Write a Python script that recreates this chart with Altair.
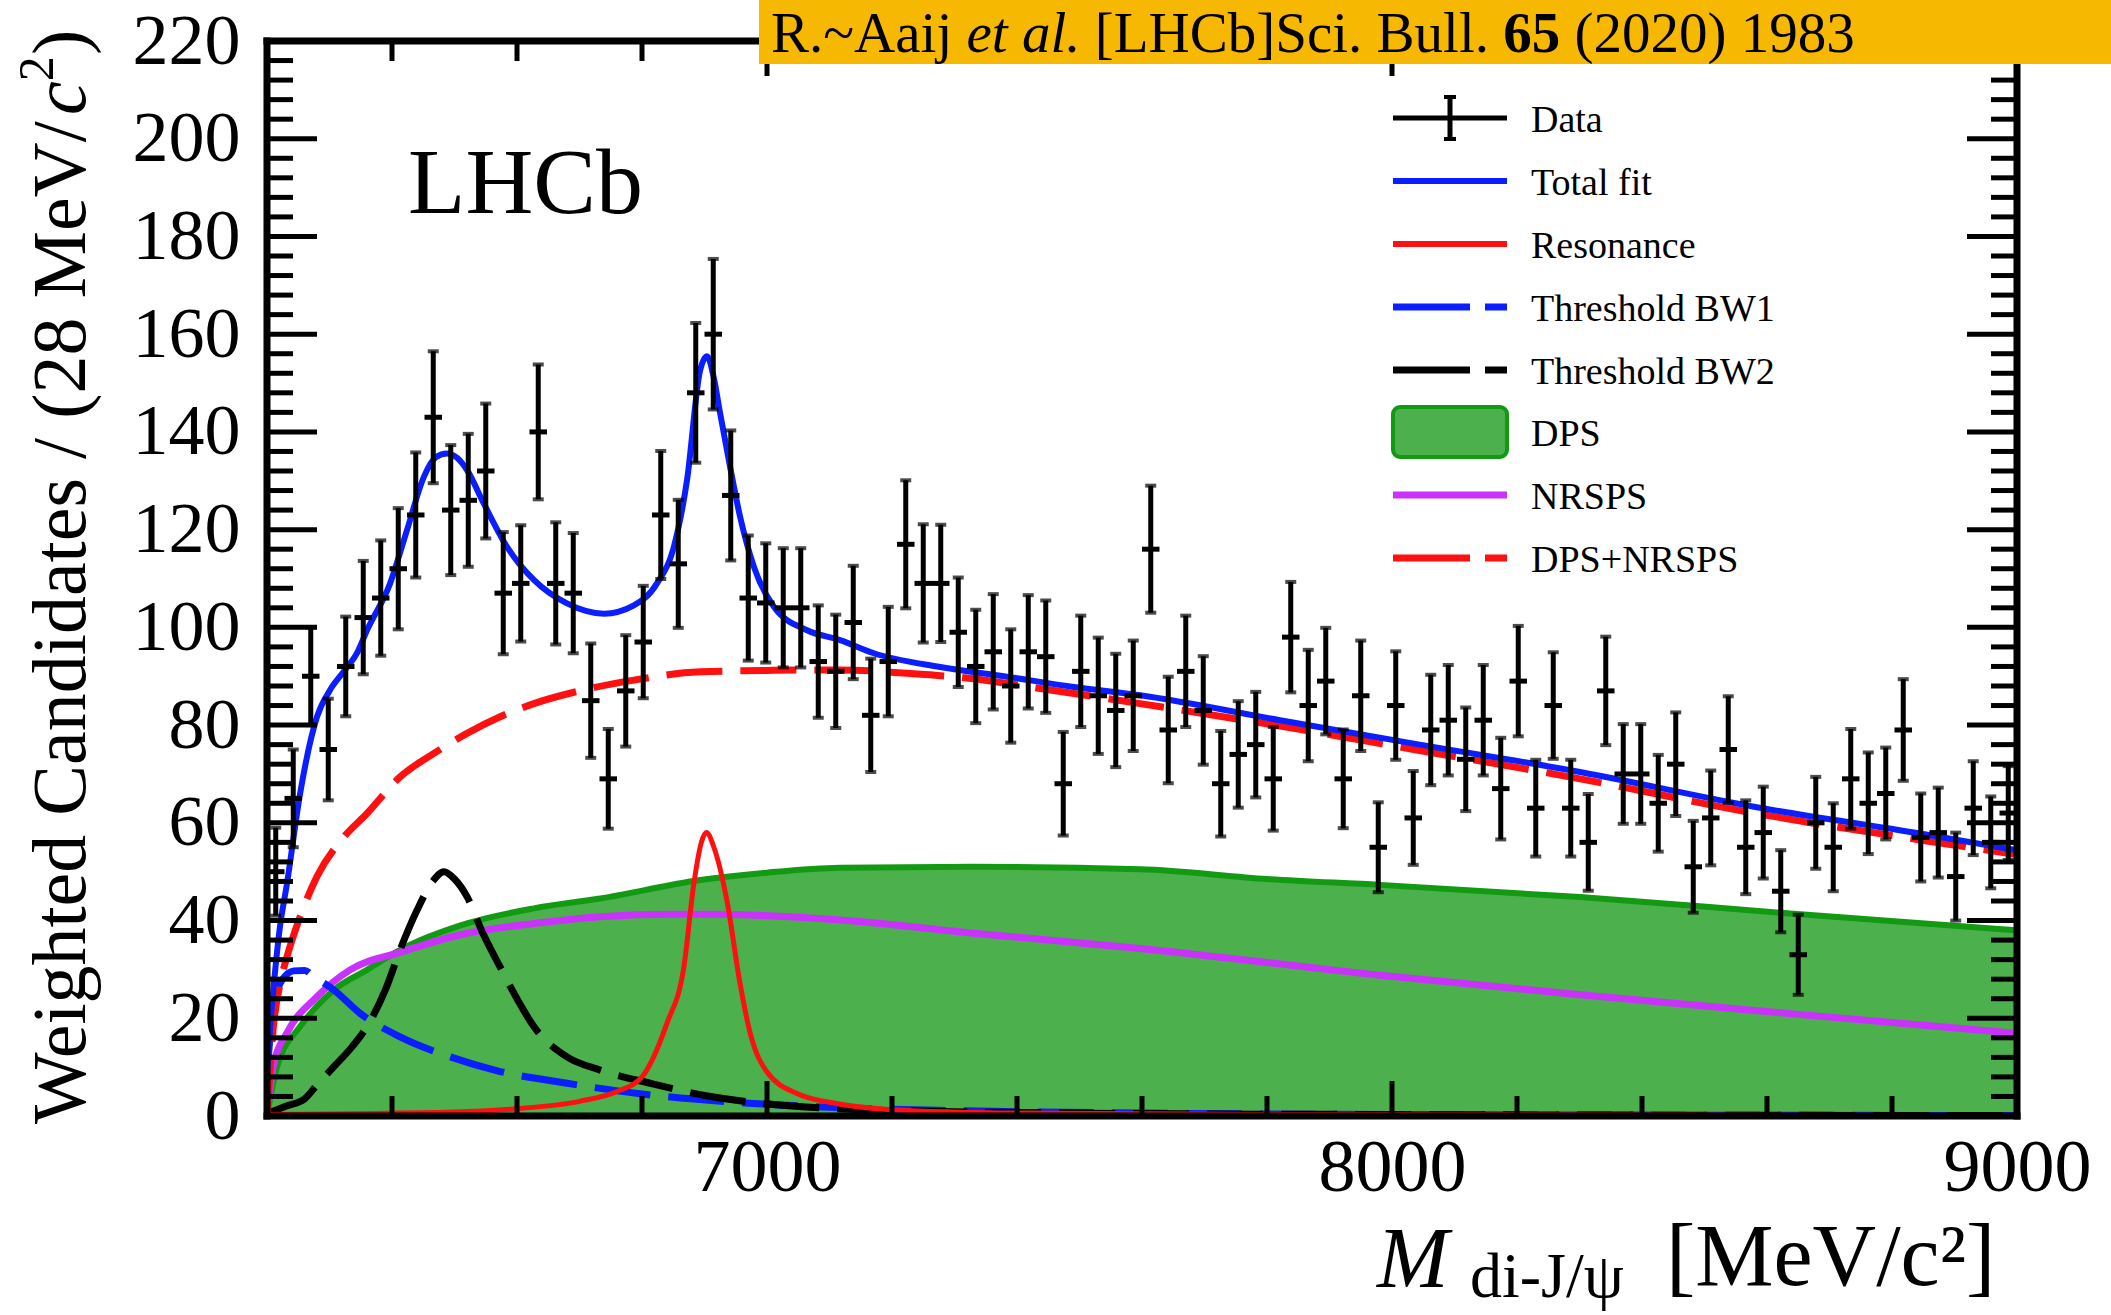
import altair as alt
import pandas as pd

FONT = "Liberation Serif"

# ---------------- data ----------------
bin_centers = [6214 + 28 * k for k in range(100)]
counts = [50, 65, 90, 75, 92, 102, 106, 112, 123, 143,
          124, 126, 132, 107, 109, 140, 109, 107, 85, 69,
          87, 97, 123, 113, 148, 160, 127, 106, 105, 104,
          104, 93, 91, 101, 82, 93, 117, 109, 109, 99,
          92, 95, 88, 95, 94, 68, 91, 86, 83, 86,
          116, 79, 91, 83, 68, 74, 76, 69, 98, 84,
          89, 69, 86, 55, 84, 61, 79, 81, 73, 81,
          67, 89, 63, 84, 63, 56, 87, 70, 70, 64,
          72, 51, 61, 75, 55, 58, 46, 33, 60, 55,
          69, 64, 66, 79, 57, 58, 49, 63, 56, 62]
errors = [9, 10, 10, 10.4, 10.2, 11.6, 11.8, 12.4, 12.8, 13.5,
          13.3, 13.6, 13.8, 12.5, 11.9, 13.8, 12.5, 12.3, 11.7, 10.2,
          11.4, 11.5, 13.1, 13.1, 14.3, 15.4, 13.3, 12.8, 12.2, 12.2,
          12.2, 11.5, 11.6, 11.6, 11.6, 11.2, 13.1, 12.1, 12, 11.2,
          11.6, 11.8, 11.6, 11.6, 11.5, 10.6, 11.4, 11.9, 11.6, 11.3,
          13, 10.9, 11.4, 11.1, 10.8, 10.9, 10.8, 10.6, 11.3, 11.4,
          10.9, 10.1, 11.3, 9.2, 11.1, 9.6, 11.3, 11.3, 10.6, 11.3,
          10.4, 11.3, 9.9, 10.9, 9.9, 9.9, 11.1, 10.2, 10.2, 9.9,
          10.6, 9.4, 9.7, 10.9, 9.6, 9.4, 8.4, 8.2, 9.4, 9,
          10.2, 10.4, 9.4, 10.4, 9, 9.2, 9, 9.6, 9.4, 9.6]

fit_m = [6200, 6205, 6211, 6220, 6232, 6253, 6280, 6300, 6323, 6345, 6360, 6397,
         6424, 6451, 6470, 6488, 6505, 6520, 6547, 6584, 6627, 6680, 6739, 6787,
         6824, 6851, 6872, 6893, 6904, 6915, 6925, 6941, 6957, 6979, 7011, 7064,
         7117, 7171, 7277, 7384, 7491, 7597, 7821, 8035, 8301, 8579, 8845, 9000]
fit_v = [8, 18, 27, 38, 47.6, 66, 81.7, 87, 91, 95, 99.4, 109,
         119.9, 130.8, 134.8, 135.6, 134.6, 132.2, 125.3, 116.5, 109.7, 104.9, 102.8, 104.5,
         109, 116.5, 130.1, 152.6, 155.5, 151, 143.8, 132.8, 122.6, 112.4, 104.2, 99.4,
         97.4, 94.7, 91.9, 89.9, 87.8, 86.1, 81, 76.2, 70.4, 63.3, 57.8, 54.4]

res_m = [6200, 6500, 6600, 6700, 6760, 6800, 6840, 6867, 6883, 6895, 6903,
         6915, 6936, 6957, 6973, 7000, 7050, 7100, 7200, 7400, 7800, 9000]
res_v = [0.3, 0.8, 1.5, 3, 5, 8, 19, 30.5, 47.6, 56, 58,
         55, 44, 27, 17, 9, 4.5, 2.8, 1.3, 0.6, 0.3, 0.1]

bw1_m = [6200, 6206, 6214, 6225, 6243, 6260, 6275, 6307, 6349, 6413,
         6493, 6573, 6680, 6800, 6950, 7100, 7300, 7600, 8000, 9000]
bw1_v = [8, 18, 24.5, 28, 29.7, 29.8, 28.5, 25.8, 21, 16.2,
         12.1, 9.1, 6.7, 4.5, 2.8, 1.8, 1.1, 0.6, 0.3, 0.1]

bw2_m = [6200, 6230, 6260, 6281, 6307, 6335, 6360, 6390, 6413, 6440, 6465, 6483, 6500,
         6520, 6545, 6573, 6600, 6627, 6680, 6733, 6813, 6900, 7000, 7150, 7400, 8000, 9000]
bw2_v = [0.5, 2, 3.5, 6.5, 10.1, 14, 18.3, 26, 34, 42.1, 48, 50, 48.5,
         44.9, 37.5, 30.5, 24, 18.3, 12.1, 9.4, 6.7, 4.2, 2.5, 1.3, 0.7, 0.3, 0.1]

dps_m = [6200, 6216, 6253, 6280, 6307, 6360, 6413, 6520, 6627, 6733,
         6893, 7000, 7117, 7330, 7597, 7800, 7981, 8301, 8632, 9000]
dps_v = [0, 10, 18.3, 22.5, 25.8, 29.9, 34, 39.4, 42.5, 44.5,
         48.3, 49.8, 50.8, 51, 50.5, 48.5, 47.3, 44.8, 41.5, 38]

nrsps_m = [6200, 6211, 6232, 6280, 6333, 6413, 6520, 6627, 6733,
           6850, 6904, 7117, 7330, 7597, 7981, 8301, 8632, 9000]
nrsps_v = [0, 10.8, 17, 24.4, 29.9, 33.5, 37.4, 39.4, 40.8,
           41.3, 41.3, 40.1, 37.4, 34.3, 28.8, 24.8, 21, 16.9]

bkg_m = [6200, 6210, 6221, 6232, 6253, 6280, 6323, 6360, 6413, 6467, 6520, 6573, 6627, 6707,
         6787, 6893, 7011, 7117, 7224, 7330, 7437, 7597, 7821, 8035, 8301, 8579, 8845, 9000]
bkg_v = [0, 18, 27.1, 32.6, 40.8, 49, 57.1, 61.9, 69.4, 74.2, 78.3, 81.7, 84.4, 87.2,
         89.2, 90.9, 91.2, 91.3, 90.6, 89.5, 87.5, 84.4, 79.8, 75, 69, 62, 56.5, 53.5]

y_major = [0, 20, 40, 60, 80, 100, 120, 140, 160, 180, 200, 220]
y_minor = [v for v in range(4, 220, 4) if v % 20 != 0]
x_major = [7000, 8000, 9000]
x_minor = [6400, 6600, 6800, 7200, 7400, 7600, 7800, 8200, 8400, 8600, 8800]

legend_labels = ["Data", "Total fit", "Resonance", "Threshold BW1",
                 "Threshold BW2", "DPS", "NRSPS", "DPS+NRSPS"]

# ---------------- styling ----------------
W, H = 1750, 1075
BLUE = "#0a1eff"
RED = "#ff1010"
GREEN_EDGE = "#129a12"
GREEN_FILL = "#4cb04c"
MAGENTA = "#c832fa"
DASH = [56, 18]

xsc = alt.Scale(domain=[6200, 9000], nice=False, zero=False)
ysc = alt.Scale(domain=[0, 220], nice=False, zero=False)
AX = alt.Axis(values=x_major, format="d", labelFont=FONT, labelFontSize=74,
              labelPadding=16, labelColor="black", ticks=False, tickSize=0,
              domain=False, grid=False, title=None, labelFlush=False, labelOverlap=False)
AY = alt.Axis(values=y_major, format="d", labelFont=FONT, labelFontSize=72,
              labelPadding=27, labelColor="black", ticks=False, tickSize=0,
              domain=False, grid=False, title=None, labelOverlap=False)


def X(f):
    return alt.X(f"{f}:Q", scale=xsc, axis=AX)


def Y(f):
    return alt.Y(f"{f}:Q", scale=ysc, axis=AY)


one = pd.DataFrame({"k": [0]})
layers = []

# DPS area
dps_df = pd.DataFrame({"m": dps_m, "v": dps_v})
layers.append(alt.Chart(dps_df).mark_area(color=GREEN_FILL, interpolate="monotone", clip=True)
              .encode(x=X("m"), y=Y("v")))
layers.append(alt.Chart(dps_df).mark_line(color=GREEN_EDGE, strokeWidth=6, interpolate="monotone", clip=True)
              .encode(x=X("m"), y=Y("v")))


def curve(ms, vs, color, width, dash=None):
    d = pd.DataFrame({"m": ms, "v": vs})
    kw = dict(color=color, strokeWidth=width, interpolate="monotone", clip=True)
    if dash:
        kw["strokeDash"] = dash
    return alt.Chart(d).mark_line(**kw).encode(x=X("m"), y=Y("v"))


layers.append(curve(nrsps_m, nrsps_v, MAGENTA, 7))
layers.append(curve(bw1_m, bw1_v, BLUE, 7, DASH))
layers.append(curve(bw2_m, bw2_v, "black", 7, DASH))
layers.append(curve(res_m, res_v, RED, 5))
layers.append(curve(bkg_m, bkg_v, RED, 7, DASH))
layers.append(curve(fit_m, fit_v, BLUE, 6))

# data points with error bars
df = pd.DataFrame({"m": bin_centers, "n": counts, "e": errors})
df["lo"] = df["n"] - df["e"]
df["hi"] = df["n"] + df["e"]
df["x0"] = df["m"] - 14
df["x1"] = df["m"] + 14
layers.append(alt.Chart(df).mark_rule(color="black", strokeWidth=5)
              .encode(x=X("m"), y=Y("lo"), y2=alt.Y2("hi:Q")))
layers.append(alt.Chart(df).mark_rule(color="black", strokeWidth=5)
              .encode(x=X("x0"), x2=alt.X2("x1:Q"), y=Y("n")))
for f in ["lo", "hi"]:
    layers.append(alt.Chart(df).mark_tick(color="black", orient="horizontal", size=11, thickness=4)
                  .encode(x=X("m"), y=Y(f)))

# inward ticks on all four sides
ymaj = pd.DataFrame({"v": y_major})
ymin = pd.DataFrame({"v": y_minor})
xmaj = pd.DataFrame({"m": x_major})
xmin = pd.DataFrame({"m": x_minor})
for d, ln in [(ymaj, 50), (ymin, 26)]:
    layers.append(alt.Chart(d).mark_rule(color="black", strokeWidth=5)
                  .encode(x=alt.value(0), x2=alt.value(ln), y=Y("v")))
    layers.append(alt.Chart(d).mark_rule(color="black", strokeWidth=5)
                  .encode(x=alt.value(W - ln), x2=alt.value(W), y=Y("v")))
for d, ln in [(xmaj, 35), (xmin, 20)]:
    layers.append(alt.Chart(d).mark_rule(color="black", strokeWidth=5)
                  .encode(x=X("m"), y=alt.value(H - ln), y2=alt.value(H)))
    layers.append(alt.Chart(d).mark_rule(color="black", strokeWidth=5)
                  .encode(x=X("m"), y=alt.value(0), y2=alt.value(ln)))

# frame
for enc in [dict(x=alt.value(0), y=alt.value(0), y2=alt.value(H)),
            dict(x=alt.value(W), y=alt.value(0), y2=alt.value(H)),
            dict(x=alt.value(0), x2=alt.value(W), y=alt.value(H)),
            dict(x=alt.value(0), x2=alt.value(W), y=alt.value(0))]:
    layers.append(alt.Chart(one).mark_rule(color="black", strokeWidth=7, strokeCap="square").encode(**enc))

# LHCb label
layers.append(alt.Chart(one).mark_text(text="LHCb", font=FONT, fontSize=94, align="left",
                                       baseline="alphabetic", color="black")
              .encode(x=alt.value(141), y=alt.value(172)))

# legend
LX1, LX2, LT = 1126, 1240, 1264
rows = [77, 140, 203, 266, 329, 391, 454, 517]
layers.append(alt.Chart(one).mark_rule(color="black", strokeWidth=5)
              .encode(x=alt.value(LX1), x2=alt.value(LX2), y=alt.value(rows[0])))
layers.append(alt.Chart(one).mark_rule(color="black", strokeWidth=5)
              .encode(x=alt.value(1183), y=alt.value(rows[0] - 21), y2=alt.value(rows[0] + 21)))
for yy in [rows[0] - 21, rows[0] + 21]:
    layers.append(alt.Chart(one).mark_rule(color="black", strokeWidth=4)
                  .encode(x=alt.value(1177), x2=alt.value(1189), y=alt.value(yy)))
line_styles = [(1, BLUE, 6, None), (2, RED, 6, None), (3, BLUE, 7, [77, 15]),
               (4, "black", 7, [77, 15]), (6, MAGENTA, 7, None), (7, RED, 7, [77, 15])]
for i, col, wdt, dsh in line_styles:
    kw = dict(color=col, strokeWidth=wdt)
    if dsh:
        kw["strokeDash"] = dsh
    layers.append(alt.Chart(one).mark_rule(**kw)
                  .encode(x=alt.value(LX1), x2=alt.value(LX2), y=alt.value(rows[i])))
layers.append(alt.Chart(one).mark_rect(color=GREEN_FILL, stroke=GREEN_EDGE, strokeWidth=4, cornerRadius=7)
              .encode(x=alt.value(LX1), x2=alt.value(LX2), y=alt.value(rows[5] - 25), y2=alt.value(rows[5] + 25)))
for lab, yy in zip(legend_labels, rows):
    layers.append(alt.Chart(one).mark_text(text=lab, font=FONT, fontSize=38, align="left",
                                           baseline="middle", color="black")
                  .encode(x=alt.value(LT), y=alt.value(yy + 3)))

# citation box
layers.append(alt.Chart(one).mark_rect(color="#F6B800")
              .encode(x=alt.value(492), x2=alt.value(2111 - 267), y=alt.value(-41), y2=alt.value(23)))
cite = [("R.~Aaij", 504, "normal", "normal"),
        ("et al.", 699.5, "italic", "normal"),
        ("[LHCb]Sci. Bull.", 827.8, "normal", "normal"),
        ("65", 1236.3, "normal", "bold"),
        ("(2020) 1983", 1307.5, "normal", "normal")]
for txt, xx, sty, wgt in cite:
    layers.append(alt.Chart(one).mark_text(text=txt, font=FONT, fontSize=57, align="left",
                                           baseline="alphabetic", color="black",
                                           fontStyle=sty, fontWeight=wgt)
                  .encode(x=alt.value(xx), y=alt.value(11)))

# y-axis title (rotated, pieces)
ytitle = [("Weighted Candidates / (28 MeV/", -182, 1083, 76, "normal"),
          ("c", -182, 74, 76, "italic"),
          ("2", -214, 40.3, 50, "normal"),
          (")", -182, 14, 76, "normal")]
for txt, xx, yy, fs, sty in ytitle:
    layers.append(alt.Chart(one).mark_text(text=txt, font=FONT, fontSize=fs, align="left",
                                           baseline="alphabetic", angle=270, color="black",
                                           fontStyle=sty)
                  .encode(x=alt.value(xx), y=alt.value(yy)))

# x-axis title (pieces)
xtitle = [("M", 1110, 1246, 86, "italic"),
          ("di-J/ψ", 1203, 1256, 64, "normal"),
          ("[MeV/c²]", 1399, 1244, 88, "normal")]
for txt, xx, yy, fs, sty in xtitle:
    layers.append(alt.Chart(one).mark_text(text=txt, font=FONT, fontSize=fs, align="left",
                                           baseline="alphabetic", color="black", fontStyle=sty)
                  .encode(x=alt.value(xx), y=alt.value(yy)))

chart = alt.layer(*layers).properties(
    width=W, height=H,
    autosize=alt.AutoSizeParams(type="none"),
    padding={"left": 267, "top": 41, "right": 94, "bottom": 199},
    background="white",
).configure_view(stroke=None)

chart.save("out.html", embed_options={"renderer": "svg", "actions": False})
